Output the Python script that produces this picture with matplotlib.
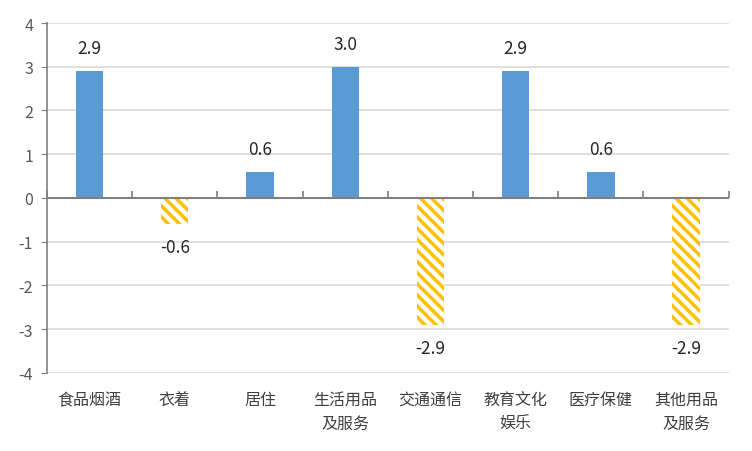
import numpy as np
import matplotlib.pyplot as plt

plt.rcParams['font.family'] = ['Noto Sans CJK SC', 'DejaVu Sans']
plt.rcParams['hatch.linewidth'] = 2.5
plt.rcParams['axes.unicode_minus'] = False

categories = ["食品烟酒", "衣着", "居住", "生活用品\n及服务", "交通通信",
              "教育文化\n娱乐", "医疗保健", "其他用品\n及服务"]
values = [2.9, -0.6, 0.6, 3.0, -2.9, 2.9, 0.6, -2.9]

blue = "#5B9BD5"
yellow = "#FFC000"
gray = "#7F7F7F"


def main():
    fig = plt.figure(figsize=(7.52, 4.52), dpi=100)
    ax = fig.add_axes([0.0625, 0.1726, 0.9065, 0.7743])
    x = np.arange(len(categories))

    for xi, v in zip(x, values):
        if v >= 0:
            ax.bar(xi, v, width=0.32, color=blue, zorder=3)
            ax.text(xi, v + 0.52, "{:.1f}".format(v), ha='center', va='center',
                    fontsize=12.5, color="#262626")
        else:
            ax.bar(xi, v, width=0.32, facecolor='white', edgecolor=yellow,
                   hatch='\\\\\\', linewidth=0, zorder=3)
            ax.text(xi, v - 0.52, "{:.1f}".format(v), ha='center', va='center',
                    fontsize=12.5, color="#262626")

    ax.set_xlim(-0.5, len(categories) - 0.5)
    ax.set_ylim(-4, 4)
    ax.set_yticks(np.arange(-4, 5))
    ax.grid(axis='y', color="#D9D9D9", linewidth=1.2, zorder=0)
    ax.set_axisbelow(True)

    for s in ['top', 'right', 'bottom']:
        ax.spines[s].set_visible(False)
    ax.spines['left'].set_color(gray)
    ax.spines['left'].set_linewidth(1.2)
    ax.tick_params(axis='y', colors=gray, labelcolor="#595959", length=4,
                   labelsize=11.5, pad=6)

    ax.set_xticks(x)
    ax.set_xticklabels(categories, fontsize=11.5, color="#404040", linespacing=1.55)
    ax.tick_params(axis='x', length=0, pad=13)

    # zero line with small upward ticks between categories
    ax.axhline(0, color=gray, linewidth=1.5, zorder=4)
    sec = ax.secondary_xaxis(0.5)
    sec.set_xticks(np.arange(-0.5, len(categories)))
    sec.set_xticklabels([])
    sec.tick_params(direction='out', length=5, color=gray, width=1.2,
                    labelbottom=False, labeltop=False)
    for s in sec.spines.values():
        s.set_visible(False)

    fig.savefig("out.png", dpi=100)


if __name__ == "__main__":
    main()
